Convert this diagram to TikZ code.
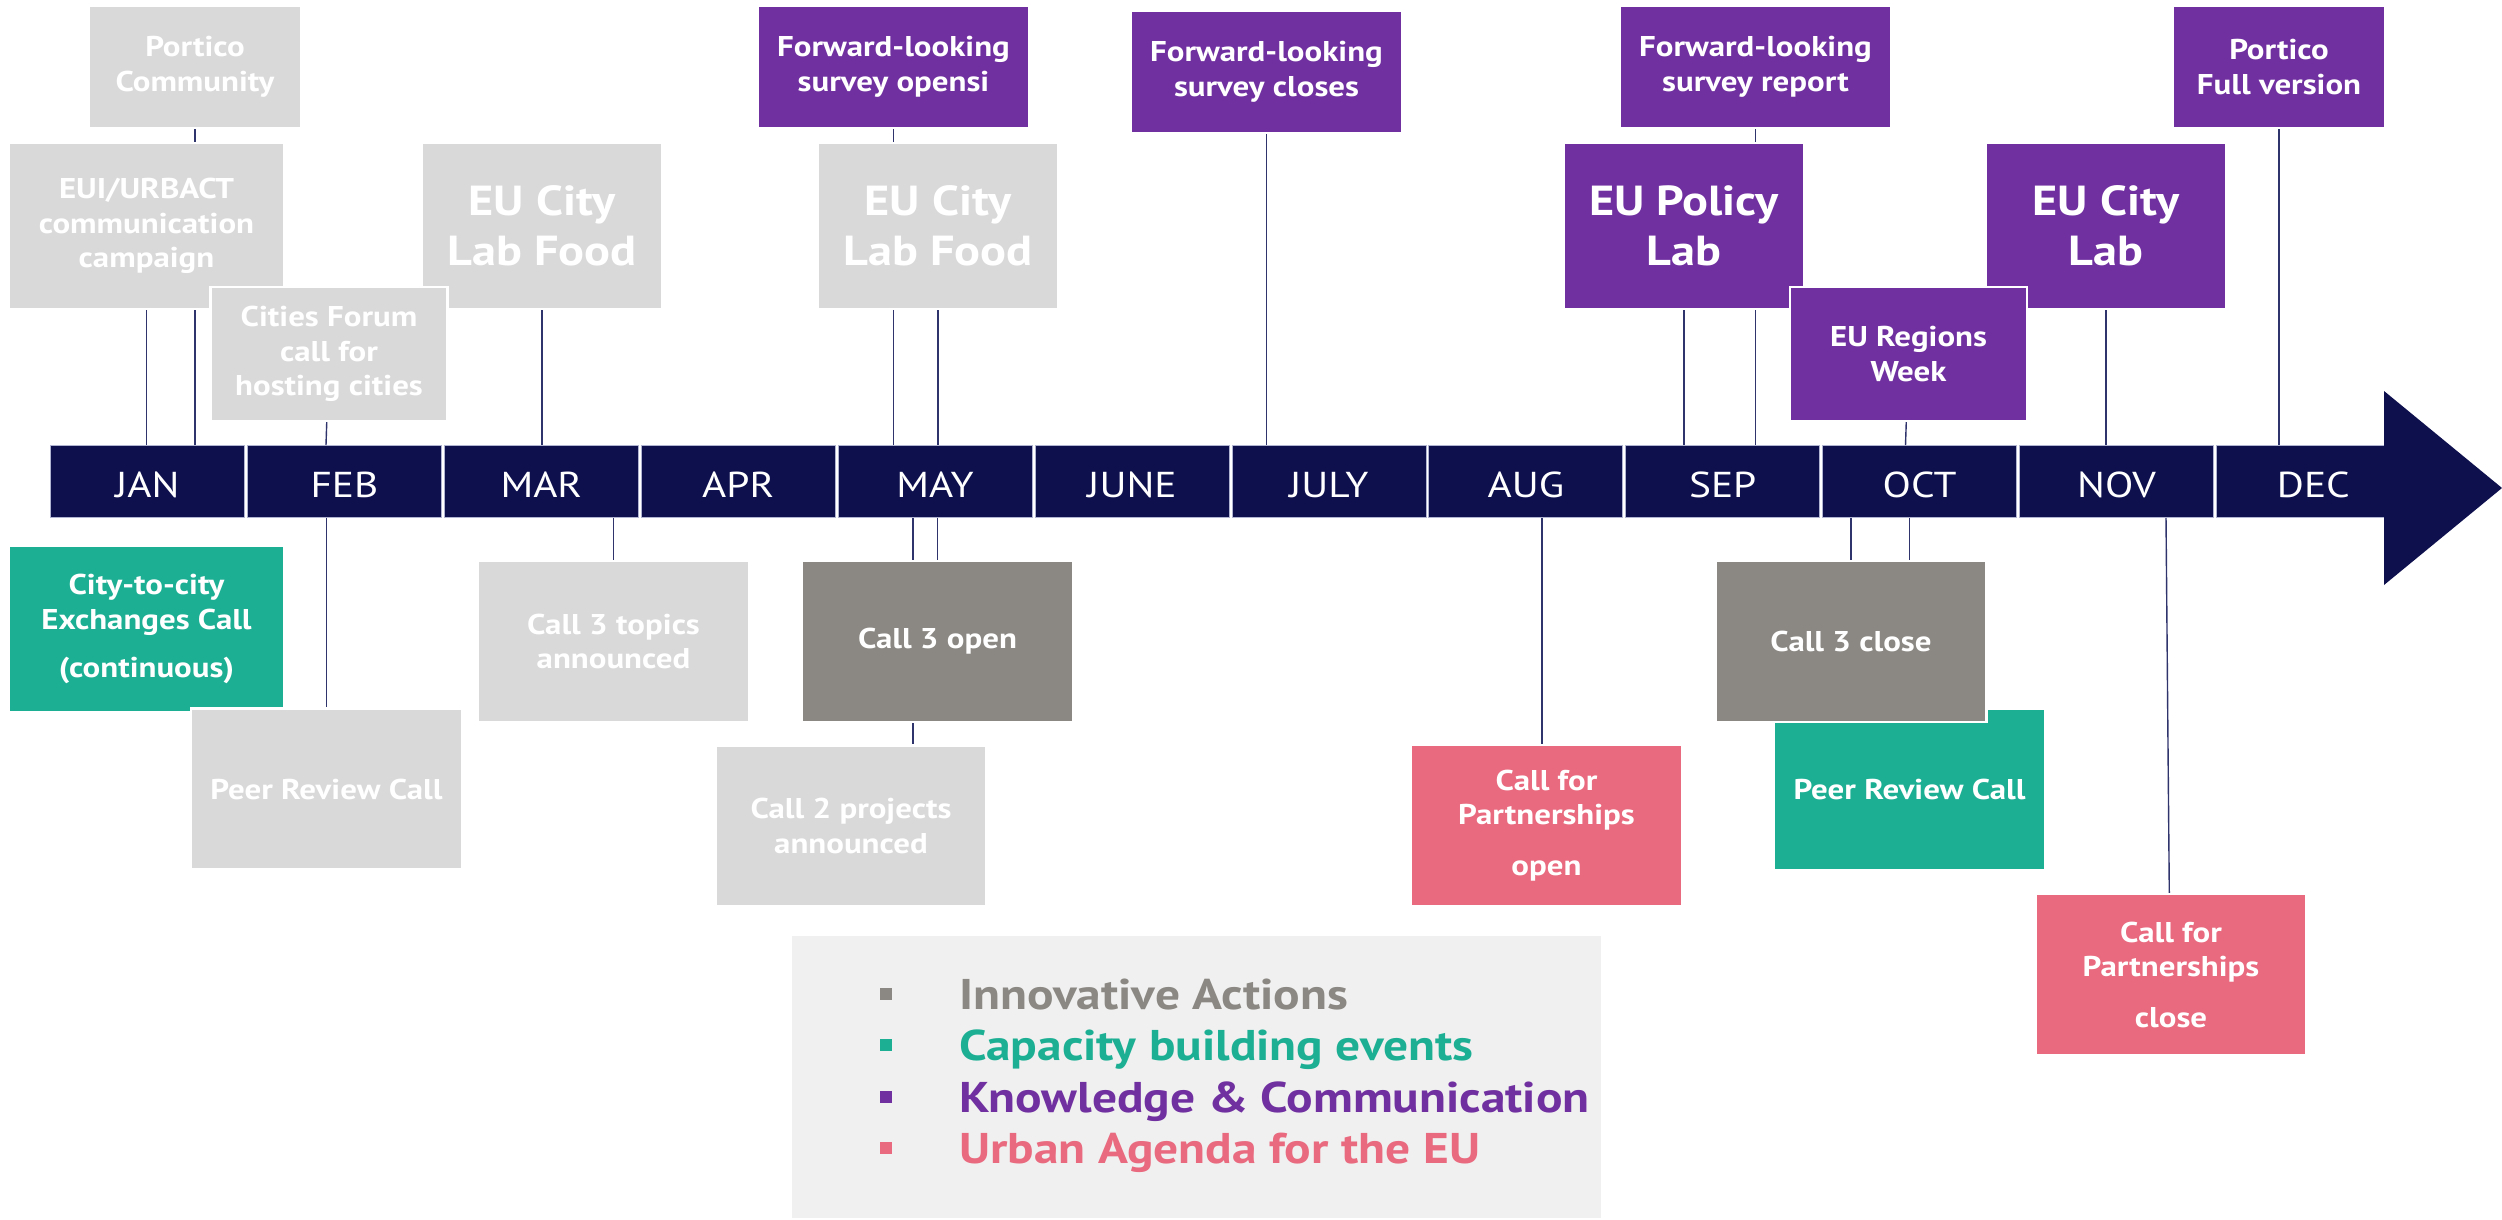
\documentclass[tikz,border=0pt]{standalone}
\usepackage{fontspec}
\setmainfont{PT Sans}[FakeStretch=1.15]
\definecolor{navy}{RGB}{14,16,78}
\definecolor{lgrey}{RGB}{217,217,217}
\definecolor{dgrey}{RGB}{139,136,131}
\definecolor{tealc}{RGB}{29,175,148}
\definecolor{purp}{RGB}{112,48,160}
\definecolor{pinkc}{RGB}{233,105,126}
\definecolor{legbg}{RGB}{240,240,240}
\definecolor{conncol}{RGB}{48,52,108}
\definecolor{celledge}{RGB}{176,180,208}
\begin{document}
\begin{tikzpicture}[x=1pt,y=-1pt,
  box/.style={draw=white, line width=2.5pt, inner sep=0pt, align=center, text=white,
    font=\fontsize{28.6}{34.5}\selectfont\bfseries},
  bigtxt/.style={font=\fontsize{42}{50}\selectfont\bfseries},
  sbox/.style={box, minimum width=271pt, minimum height=122pt},
  lbox/.style={box, minimum width=240pt, minimum height=166pt},
  cbox/.style={box, minimum width=271pt, minimum height=161pt},
  cell/.style={fill=navy, draw=celledge, line width=0.8pt, inner sep=0pt, text=white,
    minimum width=194pt, minimum height=72pt, text height=31pt, text depth=0pt,
    font=\fontsize{36}{40}\selectfont},
  conn/.style={draw=conncol, line width=1.4pt},
  bullet/.style={inner sep=0pt, minimum size=12pt},
  legtxt/.style={anchor=base west, inner sep=0pt, font=\fontsize{43}{50}\selectfont\bfseries}]
\useasboundingbox (0,0) rectangle (2502,1220);

% ---- timeline cells
\node[cell] (m1) at (147.5,481.5) {JAN};
\node[cell] (m2) at (344.4,481.5) {FEB};
\node[cell] (m3) at (541.3,481.5) {MAR};
\node[cell] (m4) at (738.2,481.5) {APR};
\node[cell] (m5) at (935.1,481.5) {MAY};
\node[cell] (m6) at (1132,481.5) {JUNE};
\node[cell] (m7) at (1328.9,481.5) {JULY};
\node[cell] (m8) at (1525.8,481.5) {AUG};
\node[cell] (m9) at (1722.7,481.5) {SEP};
\node[cell] (m10) at (1919.6,481.5) {OCT};
\node[cell] (m11) at (2116.5,481.5) {NOV};
\node[cell] (m12) at (2313.4,481.5) {DEC};
\fill[navy] (2384,391) -- (2502,488) -- (2384,585) -- cycle;

\coordinate (forumbar) at (326,445);
\coordinate (regbar) at (1905.5,445);
\coordinate (c2bar) at (913,518);
\coordinate (augbar) at (1542,518);
\coordinate (novbar) at (2166,518);

% ---- connectors above
\draw[conn] (195,67) coordinate (porticoC) -- (porticoC |- m1.north);
\draw[conn] (146.5,226) coordinate (euiC) -- (euiC |- m1.north);
\draw[conn] (329,354) coordinate (forumC) -- (forumbar);
\draw[conn] (542,226) coordinate (lab1C) -- (lab1C |- m3.north);
\draw[conn] (893.5,67) coordinate (fopenC) -- (fopenC |- m5.north);
\draw[conn] (938,226) coordinate (lab2C) -- (lab2C |- m5.north);
\draw[conn] (1266.5,72) coordinate (fcloseC) -- (fcloseC |- m7.north);
\draw[conn] (1755.5,67) coordinate (freportC) -- (freportC |- m9.north);
\draw[conn] (1684,226) coordinate (policyC) -- (policyC |- m9.north);
\draw[conn] (1908.5,354) coordinate (regC) -- (regbar);
\draw[conn] (2106,226) coordinate (citylabC) -- (citylabC |- m11.north);
\draw[conn] (2279,67) coordinate (pfullC) -- (pfullC |- m12.north);
% ---- connectors below
\draw[conn] (326.5,789) coordinate (peer1C) -- (peer1C |- m2.south);
\draw[conn] (613.5,641.5) coordinate (topicsC) -- (topicsC |- m3.south);
\draw[conn] (937.5,641.5) coordinate (open3C) -- (open3C |- m5.south);
\draw[conn] (c2bar) -- (913,826);
\draw[conn] (augbar) -- (1542,825);
\draw[conn] (1851,641.5) coordinate (close3C) -- (close3C |- m10.south);
\draw[conn] (1909.5,789.5) coordinate (peer2C) -- (peer2C |- m10.south);
\draw[conn] (novbar) -- (2170,974.5);

% ---- upper boxes
\node[box, fill=lgrey, minimum width=212pt, minimum height=122pt] (portico) at (porticoC) {Portico\\Community};
\node[box, fill=lgrey, minimum width=275pt, minimum height=166pt] (eui) at (euiC) {EUI/URBACT\\communication\\campaign};
\node[lbox, bigtxt, fill=lgrey] (lab1) at (lab1C) {EU City\\Lab Food};
\node[box, fill=lgrey, minimum width=237pt, minimum height=134pt] (forum) at (forumC) {Cities Forum\\call for\\hosting cities};
\node[sbox, fill=purp] (fopen) at (fopenC) {Forward-looking\\survey opensi};
\node[lbox, bigtxt, fill=lgrey] (lab2) at (lab2C) {EU City\\Lab Food};
\node[sbox, fill=purp] (fclose) at (fcloseC) {Forward-looking\\survey closes};
\node[sbox, fill=purp] (freport) at (freportC) {Forward-looking\\survey report};
\node[lbox, bigtxt, fill=purp] (policy) at (policyC) {EU Policy\\Lab};
\node[lbox, bigtxt, fill=purp] (citylab) at (citylabC) {EU City\\Lab};
\node[box, fill=purp, minimum width=237pt, minimum height=134pt] (regions) at (regC) {EU Regions\\Week};
\node[box, fill=purp, minimum width=212pt, minimum height=122pt] (pfull) at (pfullC) {Portico\\Full version};

% ---- lower boxes
\node[box, fill=tealc, minimum width=275pt, minimum height=166pt] (c2c) at (146.5,629) {City-to-city\\Exchanges Call\\[14pt](continuous)};
\node[cbox, fill=lgrey] (peer1) at (peer1C) {Peer Review Call};
\node[cbox, fill=lgrey] (topics) at (topicsC) {Call 3 topics\\announced};
\node[cbox, fill=dgrey] (open3) at (open3C) {Call 3 open};
\node[cbox, fill=lgrey] (c2proj) at (851,826) {Call 2 projects\\announced};
\node[cbox, fill=pinkc] (cfpopen) at (1546.5,825.5) {Call for\\Partnerships\\[16pt]open};
\node[cbox, fill=tealc] (peer2) at (peer2C) {Peer Review Call};
\node[cbox, fill=dgrey] (close3) at (close3C) {Call 3 close};
\node[cbox, fill=pinkc] (cfpclose) at (2171,974.5) {Call for\\Partnerships\\[16pt]close};

% ---- legend
\node[fill=legbg, inner sep=0pt, minimum width=809pt, minimum height=282pt] (legend) at (1196.5,1077) {};
\node[bullet, fill=dgrey] (b1) at (886,994) {};
\node[bullet, fill=tealc] (b2) at (886,1045) {};
\node[bullet, fill=purp] (b3) at (886,1097) {};
\node[bullet, fill=pinkc] (b4) at (886,1148) {};
\node[legtxt, text=dgrey] (t1) at (959,1009) {Innovative Actions};
\node[legtxt, text=tealc] (t2) at (959,1060) {Capacity building events};
\node[legtxt, text=purp] (t3) at (959,1112) {Knowledge \& Communication};
\node[legtxt, text=pinkc] (t4) at (959,1163) {Urban Agenda for the EU};
\end{tikzpicture}
\end{document}
